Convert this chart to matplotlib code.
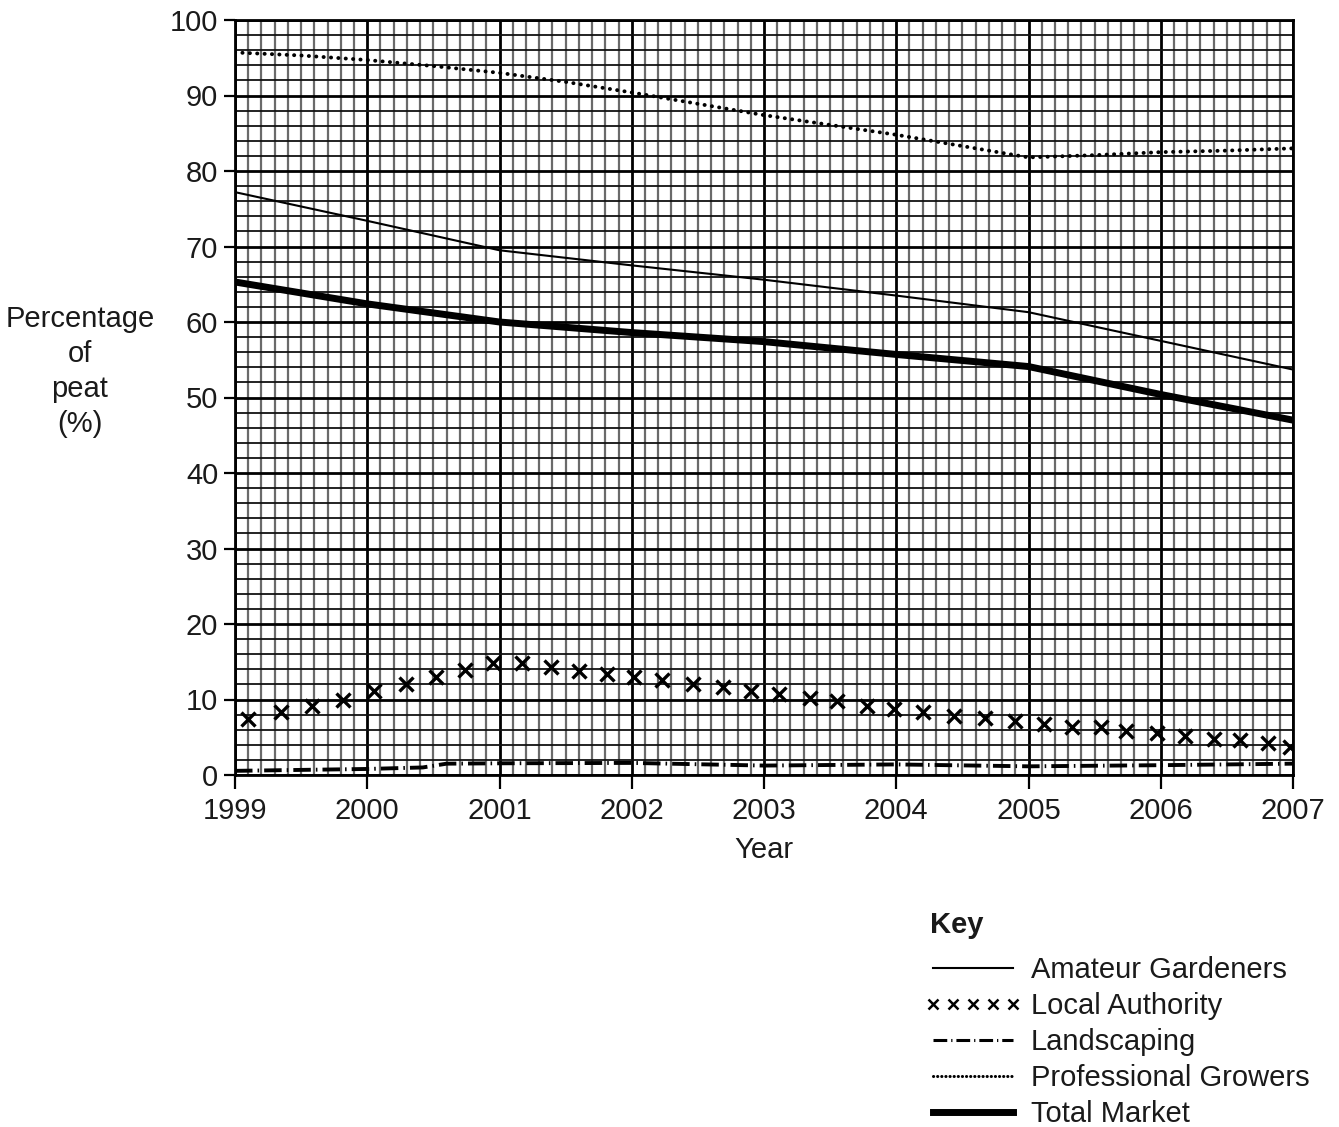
import matplotlib
matplotlib.use("Agg")
import matplotlib.pyplot as plt
from matplotlib.lines import Line2D
import numpy as np

plt.rcParams['font.family'] = ['Liberation Sans', 'DejaVu Sans']

# ---- data ----
years = [1999, 2000, 2001, 2002, 2003, 2004, 2005, 2006, 2007]
amateur = [77.2, 73.4, 69.5, 67.5, 65.6, 63.5, 61.3, 57.5, 53.7]
total = [65.3, 62.4, 60.0, 58.6, 57.4, 55.7, 54.1, 50.4, 47.0]

prof_years = [1999, 1999.5, 2000, 2000.5, 2001, 2001.5, 2002, 2002.5, 2003,
              2003.5, 2004, 2004.5, 2005, 2005.5, 2006, 2006.5, 2007]
professional = [95.7, 95.3, 94.7, 93.9, 93.0, 91.8, 90.4, 88.9, 87.4,
                86.1, 84.8, 83.3, 81.8, 82.1, 82.5, 82.7, 83.0]

land_years = [1999, 2000, 2000.42, 2000.6, 2001, 2002, 2003, 2004, 2005, 2006, 2007]
landscaping = [0.55, 0.8, 1.0, 1.5, 1.55, 1.6, 1.25, 1.4, 1.15, 1.3, 1.5]

local_years = [1999.10, 1999.35, 1999.58, 1999.82, 2000.05, 2000.29, 2000.52, 2000.74,
               2000.95, 2001.17, 2001.39, 2001.60, 2001.81, 2002.02, 2002.23, 2002.46,
               2002.69, 2002.90, 2003.11, 2003.35, 2003.55, 2003.78, 2003.98, 2004.20,
               2004.44, 2004.67, 2004.90, 2005.12, 2005.33, 2005.55, 2005.74, 2005.97,
               2006.18, 2006.40, 2006.60, 2006.81, 2006.98]
local = [7.4, 8.3, 9.2, 10.0, 11.1, 12.05, 13.0, 13.9, 14.8, 14.8, 14.3, 13.8, 13.4,
         13.0, 12.6, 12.1, 11.6, 11.1, 10.7, 10.2, 9.8, 9.2, 8.7, 8.3, 7.85, 7.5, 7.2,
         6.75, 6.4, 6.3, 5.85, 5.5, 5.1, 4.8, 4.7, 4.2, 3.7]

x_ticks = [1999, 2000, 2001, 2002, 2003, 2004, 2005, 2006, 2007]
y_ticks = [0, 10, 20, 30, 40, 50, 60, 70, 80, 90, 100]

labels = ["Amateur Gardeners", "Local Authority", "Landscaping",
          "Professional Growers", "Total Market"]

TXT = '#1a1a1a'

# ---- figure ----
W, H = 1339, 1127
fig = plt.figure(figsize=(W / 100, H / 100), dpi=100)
ax = fig.add_axes([235 / W, 1 - 775 / H, 1058 / W, 755 / H])
ax.set_xlim(1999, 2007)
ax.set_ylim(0, 100)

ax.set_xticks(x_ticks)
ax.set_xticklabels([str(v) for v in x_ticks])
ax.set_yticks(y_ticks)
ax.set_xticks(np.arange(1999, 2007.001, 0.1), minor=True)
ax.set_yticks(np.arange(0, 100.001, 2), minor=True)

ax.xaxis.grid(True, which='minor', color='#6a6a6a', lw=1.6)
ax.yaxis.grid(True, which='minor', color='#111111', lw=1.3)
ax.grid(True, which='major', color='black', lw=2.0)
ax.set_axisbelow(True)

ax.tick_params(which='minor', length=0)
ax.tick_params(which='major', width=1.6, direction='out',
               labelsize=21, colors='black', labelcolor=TXT)
ax.tick_params(axis='x', which='major', length=10, pad=6)
ax.tick_params(axis='y', which='major', length=8, pad=4)
for s in ax.spines.values():
    s.set_linewidth(2.0)
    s.set_color('black')

# ---- series ----
la, = ax.plot(years, amateur, color='black', lw=1.5, solid_joinstyle='round')
tm, = ax.plot(years, total, color='black', lw=5.0, solid_capstyle='butt',
              solid_joinstyle='round')
pg, = ax.plot(prof_years, professional, color='black', lw=2.8,
              linestyle=(0, (0.05, 1.85)), dash_capstyle='round')
ls, = ax.plot(land_years, landscaping, color='black', lw=2.8,
              linestyle=(0, (4.5, 1.3, 0.4, 1.3)), dash_capstyle='butt')
lc, = ax.plot(local_years, local, linestyle='none', marker='x', color='black',
              markersize=10, markeredgewidth=2.4)

ax.set_xlabel("Year", fontsize=21, color=TXT)
ax.xaxis.set_label_coords(0.5, -0.081)
ax.set_ylabel("Percentage\nof\npeat\n(%)", fontsize=21, rotation=0, color=TXT,
              ha='center', va='center', linespacing=1.32)
ax.yaxis.set_label_coords(-0.1465, 0.534)

# ---- key ----
fig.text(930 / W, 1 - 925 / H, "Key", fontsize=21, fontweight='bold',
         color=TXT, ha='left', va='center')
h_am = Line2D([], [], color='black', lw=1.5)
h_lc = Line2D([], [], color='black', linestyle='none', marker='x',
              markersize=7, markeredgewidth=1.8)
h_ls = Line2D([], [], color='black', lw=2.2, linestyle=(0, (4.5, 1.3, 0.4, 1.3)))
h_pg = Line2D([], [], color='black', lw=2.2, linestyle=(0, (0.05, 1.3)),
              dash_capstyle='round')
h_tm = Line2D([], [], color='black', lw=5.0)
leg = fig.legend([h_am, h_lc, h_ls, h_pg, h_tm], labels,
                 loc='upper left', bbox_to_anchor=(924 / W, 1 - 956 / H),
                 frameon=False, fontsize=21, numpoints=5,
                 handlelength=3.35, handletextpad=0.32, labelspacing=0.277,
                 borderpad=0, borderaxespad=0)
for t in leg.get_texts():
    t.set_color(TXT)

fig.savefig("out.png", dpi=100)
